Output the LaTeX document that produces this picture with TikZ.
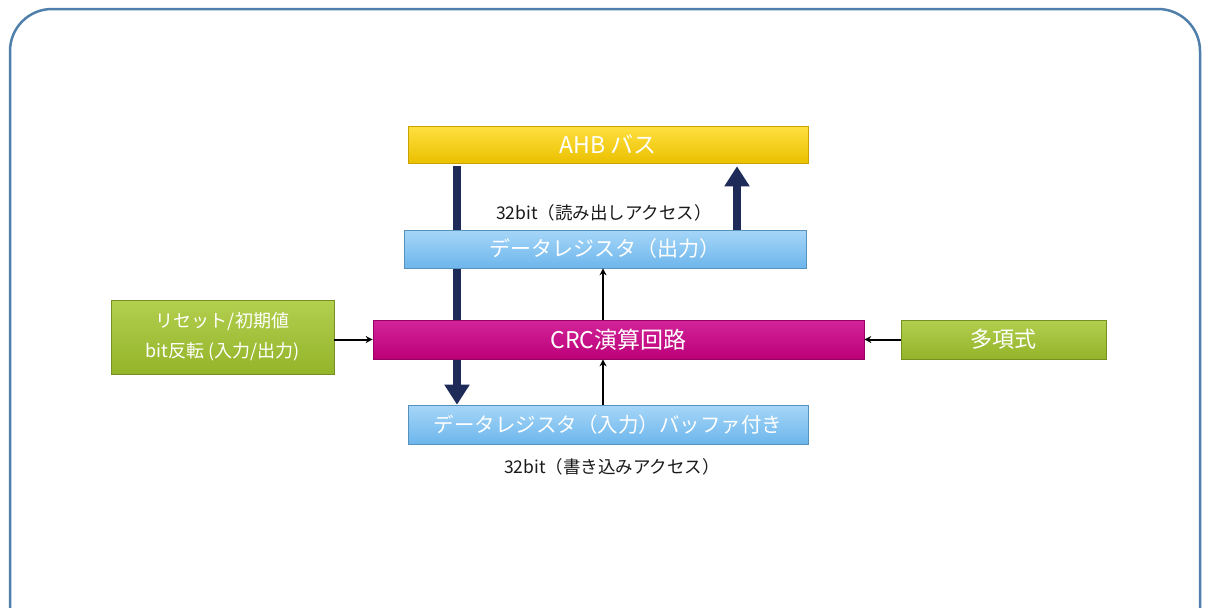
\documentclass[tikz,border=0pt]{standalone}
\usepackage{fontspec}
\setmainfont{Noto Sans CJK JP}
\usetikzlibrary{arrows.meta}
\pgfdeclarelayer{bg}
\pgfdeclarelayer{links}
\pgfsetlayers{bg,links,main}
\definecolor{frameblue}{HTML}{4F7FAA}
\definecolor{ahbtop}{HTML}{FFE040}
\definecolor{ahbbot}{HTML}{EBC000}
\definecolor{regtop}{HTML}{A6D6F8}
\definecolor{regbot}{HTML}{6DB6EC}
\definecolor{crctop}{HTML}{D2249A}
\definecolor{crcbot}{HTML}{BC0078}
\definecolor{grntop}{HTML}{B2CF4E}
\definecolor{grnbot}{HTML}{94B42A}
\definecolor{navy}{HTML}{1E2B58}
\definecolor{labeltext}{HTML}{1A1A1A}
\tikzset{
  box/.style={rectangle, inner sep=0pt, text=white, font=\fontsize{21}{24}\selectfont, align=center},
  ahbbox/.style={box, top color=ahbtop, bottom color=ahbbot, draw=ahbbot!85!black, line width=0.6pt},
  regbox/.style={box, top color=regtop, bottom color=regbot, draw=regbot!80!black, line width=0.6pt},
  crcbox/.style={box, top color=crctop, bottom color=crcbot, draw=crcbot!80!black, line width=0.6pt},
  grnbox/.style={box, top color=grntop, bottom color=grnbot, draw=grnbot!80!black, line width=0.6pt},
  buslink/.style={navy, line width=8pt, -{Triangle[length=20pt,width=24pt]}},
  siglink/.style={black, line width=2pt, -{Stealth[length=7pt,width=7pt]}},
  lbl/.style={text=labeltext, font=\fontsize{17.5}{20}\selectfont, inner sep=0pt}
}
\begin{document}
\begin{tikzpicture}[x=1pt,y=-1pt]
\useasboundingbox (0,0) rectangle (1211,608);
\begin{pgfonlayer}{bg}
\clip (0,0) rectangle (1211,608);
\fill[white] (0,0) rectangle (1211,608);
\draw[frameblue, line width=2.5pt, rounded corners=42pt] (10,9) rectangle (1200,650);
\end{pgfonlayer}

\node[ahbbox, minimum width=400pt, minimum height=37pt, font=\fontsize{23}{26}\selectfont] (ahb) at (608,144.5) {AHB バス};
\node[regbox, minimum width=402pt, minimum height=38pt] (dout) at (605,249) {データレジスタ（出力）};
\node[crcbox, minimum width=491pt, minimum height=39pt, font=\fontsize{23}{26}\selectfont] (crc) at (618.5,339.5) {CRC演算回路};
\node[regbox, minimum width=400pt, minimum height=39pt, font=\fontsize{20.5}{24}\selectfont] (din) at (608,424.5) {データレジスタ（入力）バッファ付き};
\node[grnbox, minimum width=223pt, minimum height=74pt, font=\fontsize{18}{20}\selectfont] (cfg) at (222.5,337) {リセット/初期値\\[10pt]bit反転 (入力/出力)};
\node[grnbox, minimum width=205pt, minimum height=39pt, font=\fontsize{22}{26}\selectfont] (poly) at (1003.5,339.5) {多項式};

\node[lbl] (rdlbl) at (604,213) {32bit（読み出しアクセス）};
\node[lbl] (wrlbl) at (612,467) {32bit（書き込みアクセス）};

\coordinate (xl) at (457,0);
\coordinate (xr) at (737,0);
\coordinate (xm) at (603,0);

\begin{pgfonlayer}{links}
\draw[buslink, shorten <=3pt] (ahb.south -| xl) -- (din.north -| xl);
\draw[buslink, shorten >=3pt] (dout.north -| xr) -- (ahb.south -| xr);
\end{pgfonlayer}

\draw[siglink] (crc.north -| xm) -- (dout.south -| xm);
\draw[siglink] (din.north -| xm) -- (crc.south -| xm);
\draw[siglink] (cfg.east |- crc.west) -- (crc.west);
\draw[siglink] (poly.west) -- (crc.east);
\end{tikzpicture}
\end{document}
